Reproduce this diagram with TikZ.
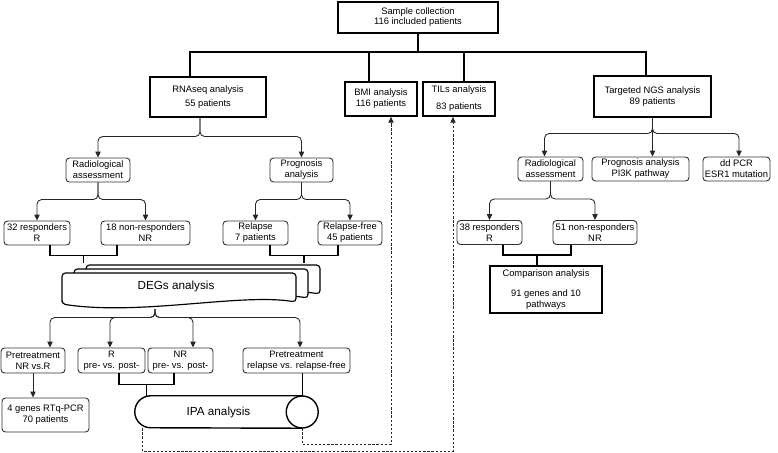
\documentclass[tikz,border=0pt]{standalone}
\usepackage{fontspec}
\setmainfont{Liberation Sans}
\usepackage{tikz}
\usetikzlibrary{arrows.meta,calc}

\tikzset{
  mainbox/.style={draw, line width=1.4pt, align=center, inner sep=1pt, font=\fontsize{8}{9.5}\selectfont},
  subbox/.style={draw=black!80, line width=0.8pt, rounded corners=3pt, align=center, inner sep=1pt, minimum height=0.72cm, font=\fontsize{8}{9.5}\selectfont},
  bigtext/.style={font=\fontsize{10}{12}\selectfont},
  bus/.style={line width=1.4pt},
  docline/.style={line width=1pt, fill=white, rounded corners=3pt},
  arr/.style={draw=black!85, line width=0.75pt, rounded corners=4pt, -{Triangle[length=5pt,width=4.5pt]}},
  dotarr/.style={draw=black!85, line width=0.6pt, dash pattern=on 2pt off 1.5pt, -{Triangle[length=5pt,width=4.5pt]}}
}

\begin{document}
\begin{tikzpicture}[x=0.03cm,y=-0.03cm]
        \useasboundingbox (0,0) rectangle (778,453);

        % first level
        \node[mainbox, minimum width=4.8cm, minimum height=0.93cm] (sample) at (418,17.5) {Sample collection\\[-1pt]116 included patients};
        \node[mainbox, minimum width=3.48cm, minimum height=1.2cm] (rna) at (208,97) {RNAseq analysis\\[3pt]55 patients};
        \node[mainbox, minimum width=2.16cm, minimum height=1.02cm] (bmi) at (381,99) {BMI analysis\\116 patients};
        \node[mainbox, minimum width=2.16cm, minimum height=1.02cm] (tils) at (459,99) {TILs analysis\\[5pt]83 patients};
        \node[mainbox, minimum width=3.51cm, minimum height=1.23cm] (ngs) at (652.5,96.5) {Targeted NGS analysis\\89 patients};

        \coordinate (busl) at ($(rna.north)+(-18,-24)$);
        \draw[bus] (sample.south) -- (sample.south |- busl);
        \draw[bus] ($(rna.north)+(-18,0)$) -- (busl) -| ($(ngs.north)+(-6.5,0)$);
        \draw[bus] ($(bmi.north)+(-12,0)$) -- ($(bmi.north |- busl)+(-12,0)$);
        \draw[bus] ($(tils.north)+(5,0)$) -- ($(tils.north |- busl)+(5,0)$);

        % RNAseq side
        \node[subbox, minimum width=1.92cm] (rad1) at (98,170) {Radiological\\assessment};
        \node[subbox, minimum width=1.89cm] (prog1) at (301.5,170) {Prognosis\\analysis};
        \node[subbox, minimum width=1.98cm] (resp1) at (37,233) {32 responders\\R};
        \node[subbox, minimum width=2.67cm] (nonr1) at (145.5,233) {18 non-responders\\NR};
        \node[subbox, minimum width=1.95cm] (relapse) at (255.5,233) {Relapse\\7 patients};
        \node[subbox, minimum width=1.92cm] (rfree) at (350,233) {Relapse-free\\45 patients};

        \foreach \t in {rad1,prog1}
            \draw[arr] ($(rna.south)+(-8,0)$) |- ($(\t.north)+(0,-21)$) -- (\t.north);
        \foreach \t in {resp1,nonr1}
            \draw[arr] (rad1.south) |- ($(\t.north)+(0,-21)$) -- (\t.north);
        \foreach \t in {relapse,rfree}
            \draw[arr] (prog1.south) |- ($(\t.north)+(0,-21)$) -- (\t.north);

        % DEGs stack
        \foreach \d in {2,1,0}
            \draw[docline, shift={(12*\d,-4*\d)}] (62,304) -- (62,273) -- (296,273) -- (296,302) .. controls (240,293) and (140,316) .. (62,304) -- cycle;
        \node[bigtext] (degs) at (176,286) {DEGs analysis};
        \coordinate (degtop) at ($(degs)+(0,-23)$);
        \coordinate (degj) at ($(degs)+(-21,23)$);

        \node[subbox, minimum width=1.92cm, minimum height=0.75cm] (pre1) at (33,360.5) {Pretreatment\\NR vs.R};
        \node[subbox, minimum width=2.01cm, minimum height=0.75cm] (rpp) at (111.5,360.5) {R\\pre- vs. post-};
        \node[subbox, minimum width=1.95cm, minimum height=0.75cm] (nrpp) at (180.5,360.5) {NR\\pre- vs. post-};
        \node[subbox, minimum width=3.21cm, minimum height=0.75cm] (prerel) at (296.5,360.5) {Pretreatment\\relapse vs. relapse-free};
        \node[subbox, minimum width=2.61cm, minimum height=1.02cm] (rtq) at (45.5,415) {4 genes RTq-PCR\\70 patients};

        \foreach \t/\dx in {pre1/17,rpp/-1.5,nrpp/12.5,prerel/3.5}
            \draw[arr] (degj) |- ($(\t.north)+(\dx,-30)$) -- ($(\t.north)+(\dx,0)$);
        \draw[arr] (pre1.south) -- (pre1.south |- rtq.north);

        % IPA cylinder
        \node[bigtext, minimum width=5.01cm, minimum height=0.96cm] (ipa) at (218.5,412) {IPA analysis};
        \draw[line width=1.2pt] (ipa.north east) -- ($(ipa.north west)+(16,0)$) arc[start angle=90, end angle=270, radius=0.48cm] -- (ipa.south east);
        \draw[line width=1.2pt] (ipa.east) circle[radius=0.48cm];
        \draw[line width=1pt] (ipa.north east |- prerel.south) -- (ipa.north east);

        % NGS side
        \node[subbox, minimum width=1.95cm] (rad2) at (550.5,169) {Radiological\\assessment};
        \node[subbox, minimum width=2.91cm] (prog2) at (640.5,169) {Prognosis analysis\\PI3K pathway};
        \node[subbox, minimum width=2.01cm] (ddpcr) at (736.5,169) {dd PCR\\ESR1 mutation};
        \node[subbox, minimum width=1.95cm] (resp2) at (489.5,232.5) {38 responders\\R};
        \node[subbox, minimum width=2.52cm] (nonr2) at (595,232.5) {51 non-responders\\NR};
        \node[mainbox, minimum width=3.36cm, minimum height=1.41cm] (comp) at (546,289.5) {Comparison analysis\\[7pt]91 genes and 10\\pathways};

        \foreach \t/\dx in {rad2/-6,ddpcr/2.5}
            \draw[arr] (ngs.south) |- ($(\t.north)+(\dx,-23)$) -- ($(\t.north)+(\dx,0)$);
        \draw[arr] (ngs.south) -- (ngs.south |- prog2.north);
        \foreach \t in {resp2,nonr2}
            \draw[arr] (rad2.south) |- ($(\t.north)+(0,-21)$) -- (\t.north);

        % joining bars
        \foreach \a/\da/\b/\db/\dy/\tgt in {resp1/13/nonr1/-28.5/10/degtop, relapse/14.5/rfree/-12/10/degtop, rpp/7.5/nrpp/-6.5/11/ipa.north, resp2/13.5/nonr2/-24/10/comp.north} {
            \coordinate (bl) at ($(\a.south)+(\da,\dy)$);
            \coordinate (br) at ($(\b.south)+(\db,\dy)$);
            \coordinate (bm) at ($(bl)!.5!(br)$);
            \draw[bus] (bl |- \a.south) -- (bl) -- (br) -- (br |- \b.south);
            \draw[bus] (bm) -- (bm |- \tgt);
        }

        % links back to BMI and TILs
        \draw[dotarr] ($(ipa.south west)+(8,0)$) -- ++(0,23) -| ($(tils.south)+(-6,0)$);
        \draw[dotarr] (ipa.south east) -- ++(0,16) -| ($(bmi.south)+(10,0)$);
\end{tikzpicture}
\end{document}
